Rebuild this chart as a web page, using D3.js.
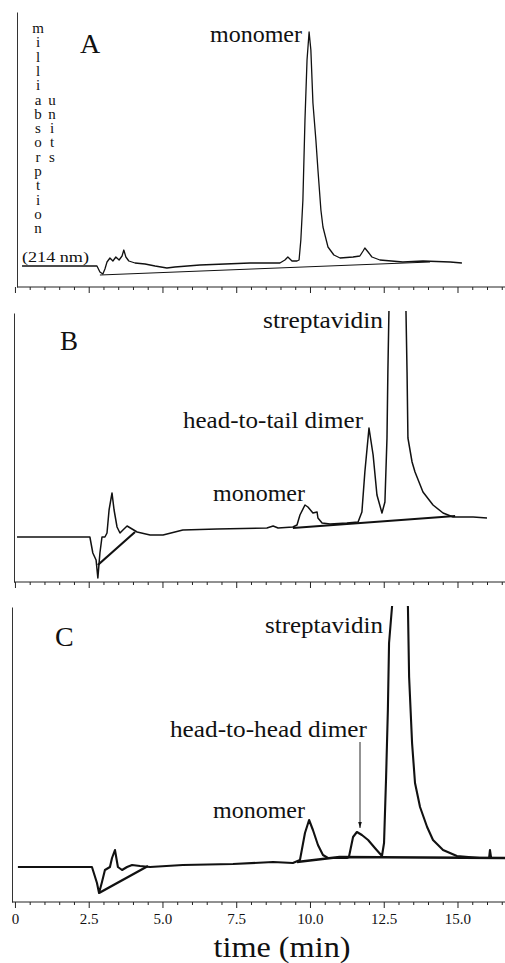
<!DOCTYPE html>
<html><head><meta charset="utf-8">
<script src="https://cdn.jsdelivr.net/npm/d3@7"></script>
<style>
body{margin:0;background:#fff}
svg{display:block}
text{font-family:"Liberation Serif","Times New Roman",serif;fill:#111}
</style>
</head><body><svg id="c" width="505" height="963"></svg>
<script>
// ---- data (time in min, absorbance in arbitrary milliabsorption units) ----
const majorTicks = [0, 2.5, 5, 7.5, 10, 12.5, 15];
const tickLabels = ["0", "2.5", "5.0", "7.5", "10.0", "12.5", "15.0"];
const minorTicks = [0.5,1,1.5,2,3,3.5,4,4.5,5.5,6,6.5,7,8,8.5,9,9.5,10.5,11,11.5,12,13,13.5,14,14.5,15.5,16,16.5];

const traceA = [[0.24,21],[1.53,21],[2.78,21],[2.88,15],[2.98,13],[3.05,18],[3.12,25],[3.22,29],[3.32,26],[3.42,30],[3.53,27],[3.63,31],[3.69,37],[3.76,30],[3.86,26],[4.07,24],[4.41,23],[4.75,21],[5.15,19],[5.42,20],[6.27,22],[7.97,24],[8.98,24],[9.15,27],[9.25,30],[9.39,26],[9.56,26],[9.63,27],[9.69,47],[9.76,87],[9.83,167],[9.90,227],[9.97,255],[10.03,237],[10.10,184],[10.20,147],[10.27,117],[10.37,77],[10.44,60],[10.61,40],[10.81,32],[11.02,29],[11.46,30],[11.69,31],[11.80,36],[11.86,39],[11.97,35],[12.10,30],[12.37,27],[13.15,25],[13.83,26],[14.75,25],[15.15,24]];
const baselineA = [[2.88,12],[14.07,25]];

const traceB = [[0.07,45],[2.47,45],[2.54,45],[2.64,29],[2.75,22],[2.81,4],[2.88,29],[2.95,45],[3.05,45],[3.12,49],[3.19,72],[3.29,89],[3.36,72],[3.46,55],[3.56,49],[3.66,52],[3.80,56],[3.97,53],[4.14,50],[4.58,47],[5.02,47],[5.69,52],[6.85,53],[8.54,54],[8.75,56],[8.92,54],[9.42,55],[9.56,57],[9.66,67],[9.83,77],[9.93,75],[10.10,69],[10.24,70],[10.27,64],[10.41,59],[10.68,58],[11.25,59],[11.63,60],[11.76,70],[11.86,110],[12.00,154],[12.14,127],[12.27,87],[12.44,69],[12.54,80],[12.61,144],[12.64,210],[12.68,277],[12.97,420],[13.25,277],[13.29,210],[13.32,144],[13.46,120],[13.56,110],[13.83,90],[14.17,77],[14.51,69],[14.85,65],[15.53,65],[16.0,64]];
const baselineB1 = [[2.81,17],[4.07,50]];
const baselineB2 = [[9.42,54],[14.92,66]];

const traceC = [[0.10,35],[2.61,35],[2.78,19],[2.85,9],[2.95,20],[3.05,32],[3.22,35],[3.29,44],[3.39,52],[3.49,35],[3.63,32],[3.80,35],[3.97,37],[4.24,36],[4.58,35],[5.69,37],[7.39,38],[8.75,40],[9.42,39],[9.66,42],[9.83,69],[9.97,82],[10.10,72],[10.27,57],[10.44,47],[10.61,44],[11.25,44],[11.32,45],[11.46,65],[11.59,70],[11.76,67],[11.97,62],[12.20,54],[12.44,46],[12.51,59],[12.58,125],[12.64,192],[12.68,259],[12.78,295],[13.05,420],[13.32,295],[13.36,225],[13.46,159],[13.56,119],[13.73,95],[13.97,75],[14.17,62],[14.51,52],[14.98,46],[15.76,44],[16.07,44],[16.10,52],[16.14,44],[16.61,44]];
const baselineC1 = [[2.85,9],[4.51,36]];
const baselineC2 = [[9.56,40],[11.0,45],[16.61,44]];

// ---- layout ----
const svg = d3.select("#c");
const x = d3.scaleLinear().domain([-0.1, 16.61]).range([12, 505]);

const panels = [
  {id:"A", axisY:287, top:12, yAxisX:17, clipTop:10, trace:traceA, tw:1.3, bases:[baselineA], bw:1.0},
  {id:"B", axisY:582, top:313, yAxisX:14, clipTop:311, trace:traceB, tw:1.5, bases:[baselineB1, baselineB2], bw:2.2},
  {id:"C", axisY:902, top:607, yAxisX:12, clipTop:606, trace:traceC, tw:2.1, bases:[baselineC1, baselineC2], bw:2.4}
];

panels.forEach((p, i) => {
  const y = d3.scaleLinear().domain([0, 300]).range([p.axisY, p.axisY - 300]);
  const g = svg.append("g");
  g.append("clipPath").attr("id", "clip" + p.id)
    .append("rect").attr("x", 0).attr("y", p.clipTop).attr("width", 505).attr("height", p.axisY - p.clipTop);

  // y axis line
  const yAx = d3.scaleLinear().domain([0, 1]).range([p.axisY, p.top]);
  g.append("g").attr("transform", `translate(${p.yAxisX},0)`)
    .call(d3.axisLeft(yAx).tickValues([]).tickSizeOuter(0))
    .call(s => s.select(".domain").attr("stroke", "#333").attr("stroke-width", 1));

  // x axis: minor + major ticks
  const gx = g.append("g").attr("transform", `translate(0,${p.axisY})`);
  gx.append("g").call(d3.axisBottom(x).tickValues(minorTicks).tickSize(3).tickSizeOuter(0).tickFormat(""))
    .call(s => s.select(".domain").attr("stroke", "#222").attr("d", `M${p.yAxisX},0H505`));
  const maj = gx.append("g").call(d3.axisBottom(x).tickValues(majorTicks).tickSize(6).tickSizeOuter(0)
      .tickFormat((d, k) => p.id === "C" ? tickLabels[k] : ""));
  maj.select(".domain").remove();
  maj.selectAll(".tick text").attr("font-size", 15).attr("fill", "#111").attr("dy", "0.85em");
  gx.selectAll(".tick line").attr("stroke", "#222");

  const line = d3.line().x(d => x(d[0])).y(d => y(d[1]));
  const lg = g.append("g").attr("clip-path", `url(#clip${p.id})`);
  p.bases.forEach(b => lg.append("path").attr("d", line(b)).attr("fill", "none")
    .attr("stroke", "#111").attr("stroke-width", p.bw));
  lg.append("path").attr("d", line(p.trace)).attr("fill", "none")
    .attr("stroke", "#111").attr("stroke-width", p.tw).attr("stroke-linejoin", "round");
});

// ---- text ----
function label(t, xx, yy, size, len) {
  const e = svg.append("text").attr("x", xx).attr("y", yy).attr("font-size", size).text(t);
  if (len) e.attr("textLength", len).attr("lengthAdjust", "spacingAndGlyphs");
  return e;
}
label("A", 80, 53, 28);
label("B", 60, 350, 27);
label("C", 55, 646, 28);

label("monomer", 210, 42, 23, 92);
label("streptavidin", 263, 328, 23, 120);
label("head-to-tail dimer", 183, 428, 23, 180);
label("monomer", 213, 501, 23, 92);
label("streptavidin", 265, 633, 23, 118);
label("head-to-head dimer", 170, 737, 23, 197);
label("monomer", 213, 818, 23, 92);

// arrow
const defs = svg.append("defs");
defs.append("marker").attr("id", "ah").attr("viewBox", "0 0 10 10").attr("refX", 10).attr("refY", 5)
  .attr("markerWidth", 7).attr("markerHeight", 7).attr("orient", "auto")
  .append("path").attr("d", "M0,2 L10,5 L0,8 Z").attr("fill", "#111");
svg.append("line").attr("x1", 360).attr("y1", 742).attr("x2", 360).attr("y2", 828)
  .attr("stroke", "#111").attr("stroke-width", 0.9).attr("marker-end", "url(#ah)");

// y-axis label (stacked letters)
const yl1 = svg.append("text").attr("font-size", 15).attr("text-anchor", "middle");
"milliabsorption".split("").forEach((c, k) => yl1.append("tspan").attr("x", 38).attr("y", 33 + k * 14.3).text(c));
const yl2 = svg.append("text").attr("font-size", 15).attr("text-anchor", "middle");
"units".split("").forEach((c, k) => yl2.append("tspan").attr("x", 52).attr("y", 104.5 + k * 14.3).text(c));
label("(214 nm)", 22, 262, 15, 67);

// x-axis title
svg.append("text").attr("x", 282).attr("y", 957).attr("font-size", 29).attr("text-anchor", "middle")
  .attr("textLength", 137).attr("lengthAdjust", "spacingAndGlyphs").text("time (min)");
</script>
</body></html>
